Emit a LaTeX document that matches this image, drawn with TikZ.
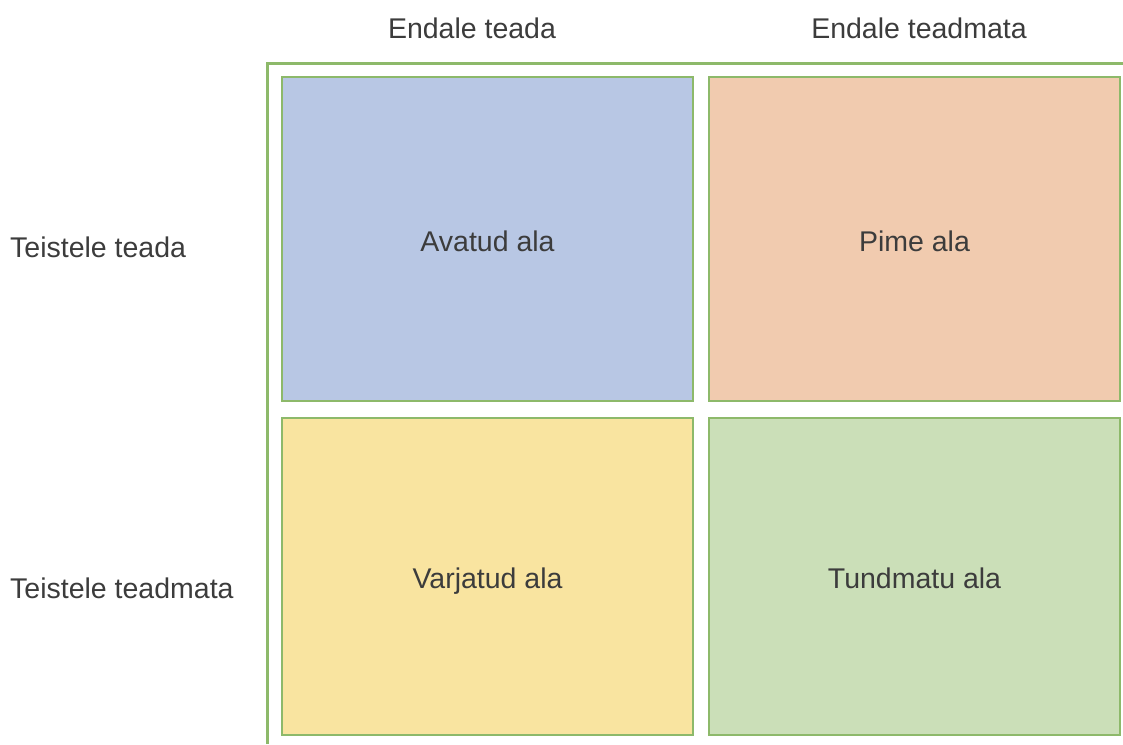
\documentclass[tikz,border=0pt]{standalone}
\usepackage{fontspec}
\setmainfont{Liberation Sans}
\usepackage{xcolor}
\usetikzlibrary{positioning}
\definecolor{framegreen}{RGB}{141,185,106}
\definecolor{openblue}{RGB}{184,199,228}
\definecolor{blindorange}{RGB}{241,203,175}
\definecolor{hiddenyellow}{RGB}{249,228,160}
\definecolor{unknowngreen}{RGB}{203,223,184}
\definecolor{labelgray}{RGB}{60,60,60}

\begin{document}
\begin{tikzpicture}[x=1pt, y=-1pt, node distance=14pt,
  every node/.style={font=\fontsize{28.5}{32}\selectfont, text=labelgray},
  area/.style={draw=framegreen, line width=2pt, minimum width=411pt, minimum height=324pt,
    inner sep=0pt, text height=30pt, text depth=6pt},
  axis/.style={inner sep=0pt}]
  \useasboundingbox (0,0) rectangle (1123,744);
  % outer frame
  \coordinate (fbot) at (267,744);
  \coordinate (fright) at (1123,63);
  \draw[framegreen, line width=3pt] (fbot) |- (fright);
  % the four areas
  \node[area, fill=openblue] (open) at (487.5,239) {Avatud ala};
  \node[area, fill=blindorange, right=of open] (blind) {Pime ala};
  \node[area, fill=hiddenyellow, below=15pt of open, minimum height=317pt] (hidden) {Varjatud ala};
  \node[area, fill=unknowngreen, right=of hidden, minimum height=317pt] (unknown) {Tundmatu ala};
  % axis labels
  \node[axis] (me) at (472,28) {Endale teada};
  \node[axis] (notme) at (919,28) {Endale teadmata};
  \node[axis, anchor=west] (others) at (10,247) {Teistele teada};
  \node[axis, anchor=west] (notothers) at (10,588) {Teistele teadmata};
\end{tikzpicture}
\end{document}
